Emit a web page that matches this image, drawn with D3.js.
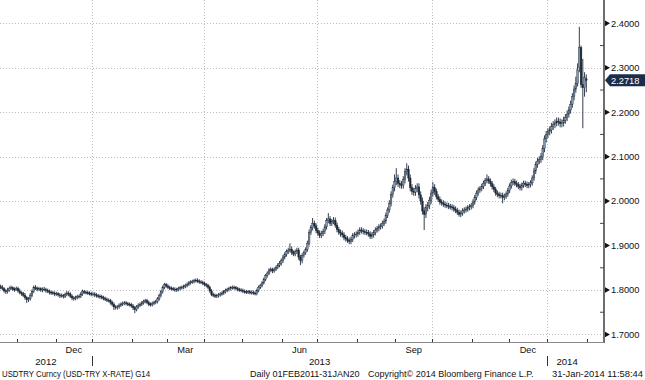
<!DOCTYPE html>
<html><head><meta charset="utf-8">
<script src="https://cdn.jsdelivr.net/npm/d3@7"></script>
<style>body{margin:0;background:#fff}svg{display:block}text{font-family:"Liberation Sans",Arial,sans-serif;fill:#111}</style>
</head><body><svg id="c" width="645" height="380"></svg>
<script>
// ---- data (daily USD/TRY OHLC) ----
const firstDay = "2012-10-18";
const lastDay = "2014-01-31";
const open = [
1.808,1.806,1.803,1.798,1.796,1.799,1.804,1.805,1.802,1.801,
1.803,1.798,1.794,1.792,1.788,1.783,1.778,1.780,1.788,1.797,
1.806,1.804,1.802,1.803,1.800,1.802,1.801,1.799,1.797,1.795,
1.794,1.793,1.791,1.792,1.789,1.787,1.788,1.786,1.790,1.793,
1.791,1.786,1.782,1.781,1.783,1.785,1.786,1.791,1.797,1.795,
1.794,1.793,1.792,1.790,1.791,1.789,1.787,1.786,1.785,1.783,
1.781,1.779,1.777,1.776,1.772,1.768,1.762,1.760,1.762,1.766,
1.768,1.770,1.771,1.769,1.768,1.767,1.764,1.760,1.756,1.762,
1.766,1.768,1.771,1.774,1.776,1.772,1.768,1.767,1.770,1.772,
1.774,1.780,1.788,1.796,1.806,1.812,1.809,1.806,1.804,1.803,
1.802,1.800,1.801,1.803,1.805,1.806,1.808,1.810,1.813,1.816,
1.818,1.819,1.821,1.822,1.820,1.818,1.817,1.815,1.812,1.810,
1.806,1.798,1.790,1.788,1.786,1.787,1.789,1.791,1.793,1.796,
1.799,1.801,1.803,1.805,1.806,1.805,1.803,1.801,1.800,1.799,
1.797,1.796,1.795,1.796,1.794,1.795,1.793,1.792,1.799,1.806,
1.810,1.816,1.824,1.832,1.838,1.845,1.846,1.843,1.847,1.851,
1.856,1.860,1.866,1.874,1.880,1.886,1.889,1.892,1.884,1.881,
1.886,1.890,1.874,1.866,1.878,1.884,1.891,1.905,1.930,1.940,
1.950,1.944,1.934,1.928,1.923,1.927,1.932,1.942,1.956,1.960,
1.950,1.954,1.957,1.946,1.936,1.930,1.928,1.924,1.918,1.915,
1.912,1.909,1.914,1.922,1.924,1.926,1.930,1.935,1.933,1.931,
1.930,1.929,1.926,1.921,1.924,1.929,1.935,1.938,1.942,1.944,
1.950,1.955,1.968,1.980,1.995,2.015,2.030,2.044,2.052,2.040,
2.037,2.036,2.048,2.066,2.072,2.052,2.030,2.022,2.020,2.028,
2.032,2.014,2.000,1.978,1.970,1.985,1.990,2.002,2.018,2.030,
2.022,2.010,2.004,1.998,1.996,1.993,1.991,1.990,1.988,1.987,
1.985,1.982,1.979,1.975,1.970,1.973,1.978,1.980,1.982,1.985,
1.987,1.990,1.998,2.008,2.018,2.025,2.028,2.033,2.040,2.046,
2.050,2.045,2.039,2.032,2.026,2.018,2.015,2.012,2.013,2.008,
2.011,2.016,2.024,2.034,2.042,2.044,2.040,2.037,2.033,2.030,
2.036,2.040,2.038,2.035,2.037,2.041,2.052,2.068,2.082,2.090,
2.094,2.100,2.118,2.140,2.150,2.156,2.160,2.168,2.172,2.176,
2.180,2.178,2.174,2.176,2.182,2.188,2.196,2.205,2.218,2.235,
2.252,2.265,2.300,2.345,2.262,2.255,2.275];
const high = [
1.812,1.811,1.806,1.802,1.805,1.808,1.810,1.808,1.806,1.808,
1.807,1.803,1.797,1.796,1.793,1.786,1.784,1.793,1.801,1.810,
1.811,1.808,1.807,1.806,1.806,1.807,1.805,1.803,1.801,1.799,
1.798,1.797,1.796,1.795,1.793,1.792,1.791,1.794,1.798,1.797,
1.795,1.790,1.786,1.787,1.789,1.790,1.795,1.801,1.800,1.799,
1.798,1.797,1.796,1.795,1.795,1.793,1.791,1.790,1.789,1.787,
1.785,1.783,1.781,1.780,1.776,1.772,1.766,1.766,1.770,1.772,
1.774,1.775,1.775,1.773,1.772,1.771,1.768,1.764,1.766,1.770,
1.772,1.775,1.778,1.780,1.780,1.776,1.772,1.774,1.776,1.778,
1.784,1.792,1.800,1.810,1.816,1.816,1.813,1.810,1.808,1.807,
1.806,1.805,1.807,1.809,1.810,1.812,1.814,1.817,1.820,1.822,
1.823,1.825,1.826,1.826,1.824,1.822,1.821,1.819,1.816,1.814,
1.810,1.802,1.794,1.792,1.791,1.793,1.795,1.797,1.800,1.803,
1.805,1.807,1.809,1.810,1.810,1.809,1.807,1.805,1.804,1.803,
1.801,1.800,1.800,1.800,1.799,1.799,1.797,1.803,1.810,1.814,
1.820,1.828,1.836,1.842,1.849,1.851,1.850,1.851,1.855,1.860,
1.865,1.871,1.879,1.885,1.891,1.895,1.905,1.898,1.889,1.891,
1.895,1.895,1.879,1.883,1.889,1.896,1.911,1.936,1.946,1.962,
1.956,1.950,1.940,1.934,1.933,1.938,1.948,1.962,1.973,1.966,
1.960,1.964,1.963,1.952,1.942,1.936,1.934,1.930,1.924,1.921,
1.918,1.920,1.928,1.930,1.932,1.936,1.941,1.941,1.939,1.937,
1.936,1.935,1.932,1.930,1.935,1.941,1.944,1.948,1.950,1.956,
1.961,1.974,1.986,2.002,2.022,2.037,2.060,2.074,2.060,2.047,
2.045,2.056,2.074,2.085,2.080,2.060,2.038,2.030,2.036,2.040,
2.040,2.022,2.008,1.986,1.993,1.998,2.010,2.026,2.043,2.038,
2.028,2.016,2.010,2.004,2.002,1.999,1.997,1.996,1.994,1.993,
1.991,1.988,1.985,1.981,1.979,1.984,1.986,1.988,1.991,1.993,
1.996,2.004,2.014,2.024,2.031,2.034,2.039,2.046,2.052,2.060,
2.056,2.051,2.045,2.038,2.032,2.024,2.021,2.019,2.019,2.017,
2.022,2.030,2.040,2.048,2.051,2.050,2.046,2.043,2.039,2.042,
2.046,2.046,2.044,2.043,2.047,2.058,2.075,2.089,2.097,2.101,
2.108,2.126,2.148,2.158,2.164,2.168,2.176,2.180,2.184,2.188,
2.188,2.186,2.184,2.190,2.196,2.204,2.213,2.226,2.243,2.260,
2.280,2.310,2.392,2.350,2.320,2.290,2.285];
const low = [
1.802,1.799,1.794,1.791,1.792,1.796,1.800,1.798,1.796,1.798,
1.794,1.790,1.787,1.784,1.778,1.771,1.773,1.776,1.784,1.793,
1.800,1.797,1.798,1.796,1.795,1.797,1.794,1.793,1.790,1.789,
1.789,1.786,1.787,1.785,1.782,1.783,1.781,1.782,1.786,1.786,
1.782,1.777,1.776,1.777,1.779,1.781,1.782,1.787,1.791,1.790,
1.789,1.788,1.786,1.786,1.784,1.783,1.782,1.780,1.779,1.777,
1.775,1.773,1.772,1.767,1.763,1.755,1.756,1.756,1.758,1.762,
1.764,1.766,1.765,1.764,1.763,1.760,1.755,1.748,1.752,1.758,
1.762,1.764,1.767,1.770,1.768,1.764,1.763,1.763,1.766,1.768,
1.770,1.776,1.784,1.792,1.802,1.805,1.802,1.800,1.799,1.798,
1.796,1.796,1.797,1.799,1.801,1.802,1.804,1.806,1.809,1.812,
1.814,1.815,1.817,1.816,1.814,1.813,1.811,1.808,1.806,1.802,
1.794,1.786,1.784,1.782,1.782,1.783,1.785,1.787,1.789,1.792,
1.795,1.797,1.799,1.801,1.801,1.799,1.797,1.796,1.795,1.793,
1.792,1.791,1.791,1.790,1.790,1.789,1.788,1.788,1.795,1.802,
1.806,1.812,1.820,1.828,1.834,1.840,1.838,1.839,1.843,1.847,
1.851,1.855,1.861,1.869,1.875,1.881,1.884,1.879,1.876,1.876,
1.881,1.868,1.856,1.860,1.873,1.879,1.886,1.900,1.924,1.934,
1.938,1.928,1.922,1.917,1.917,1.921,1.926,1.936,1.950,1.944,
1.944,1.948,1.940,1.930,1.924,1.920,1.918,1.912,1.909,1.906,
1.903,1.903,1.908,1.916,1.918,1.920,1.924,1.927,1.925,1.924,
1.923,1.920,1.915,1.915,1.918,1.923,1.929,1.932,1.936,1.938,
1.944,1.949,1.962,1.974,1.988,2.008,2.022,2.036,2.032,2.029,
2.028,2.028,2.040,2.058,2.044,2.022,2.014,2.012,2.012,2.020,
2.006,1.992,1.970,1.935,1.962,1.977,1.982,1.994,2.010,2.014,
2.004,1.998,1.992,1.990,1.987,1.985,1.984,1.982,1.981,1.979,
1.976,1.973,1.969,1.965,1.964,1.967,1.972,1.974,1.976,1.979,
1.981,1.984,1.992,2.002,2.012,2.019,2.022,2.027,2.034,2.040,
2.039,2.033,2.026,2.020,2.012,2.009,2.006,2.006,1.995,2.002,
2.005,2.010,2.018,2.028,2.036,2.034,2.031,2.027,2.024,2.024,
2.030,2.032,2.029,2.029,2.031,2.035,2.046,2.061,2.075,2.083,
2.086,2.092,2.110,2.132,2.142,2.148,2.152,2.160,2.164,2.168,
2.170,2.166,2.166,2.168,2.174,2.180,2.188,2.197,2.210,2.227,
2.244,2.258,2.290,2.255,2.164,2.235,2.245];
const close = [
1.806,1.803,1.798,1.796,1.799,1.804,1.805,1.802,1.801,1.803,
1.798,1.794,1.792,1.788,1.783,1.778,1.780,1.788,1.797,1.806,
1.804,1.802,1.803,1.800,1.802,1.801,1.799,1.797,1.795,1.794,
1.793,1.791,1.792,1.789,1.787,1.788,1.786,1.790,1.793,1.791,
1.786,1.782,1.781,1.783,1.785,1.786,1.791,1.797,1.795,1.794,
1.793,1.792,1.790,1.791,1.789,1.787,1.786,1.785,1.783,1.781,
1.779,1.777,1.776,1.772,1.768,1.762,1.760,1.762,1.766,1.768,
1.770,1.771,1.769,1.768,1.767,1.764,1.760,1.756,1.762,1.766,
1.768,1.771,1.774,1.776,1.772,1.768,1.767,1.770,1.772,1.774,
1.780,1.788,1.796,1.806,1.812,1.809,1.806,1.804,1.803,1.802,
1.800,1.801,1.803,1.805,1.806,1.808,1.810,1.813,1.816,1.818,
1.819,1.821,1.822,1.820,1.818,1.817,1.815,1.812,1.810,1.806,
1.798,1.790,1.788,1.786,1.787,1.789,1.791,1.793,1.796,1.799,
1.801,1.803,1.805,1.806,1.805,1.803,1.801,1.800,1.799,1.797,
1.796,1.795,1.796,1.794,1.795,1.793,1.792,1.799,1.806,1.810,
1.816,1.824,1.832,1.838,1.845,1.846,1.843,1.847,1.851,1.856,
1.860,1.866,1.874,1.880,1.886,1.889,1.892,1.884,1.881,1.886,
1.890,1.874,1.866,1.878,1.884,1.891,1.905,1.930,1.940,1.950,
1.944,1.934,1.928,1.923,1.927,1.932,1.942,1.956,1.960,1.950,
1.954,1.957,1.946,1.936,1.930,1.928,1.924,1.918,1.915,1.912,
1.909,1.914,1.922,1.924,1.926,1.930,1.935,1.933,1.931,1.930,
1.929,1.926,1.921,1.924,1.929,1.935,1.938,1.942,1.944,1.950,
1.955,1.968,1.980,1.995,2.015,2.030,2.044,2.052,2.040,2.037,
2.036,2.048,2.066,2.072,2.052,2.030,2.022,2.020,2.028,2.032,
2.014,2.000,1.978,1.970,1.985,1.990,2.002,2.018,2.030,2.022,
2.010,2.004,1.998,1.996,1.993,1.991,1.990,1.988,1.987,1.985,
1.982,1.979,1.975,1.970,1.973,1.978,1.980,1.982,1.985,1.987,
1.990,1.998,2.008,2.018,2.025,2.028,2.033,2.040,2.046,2.050,
2.045,2.039,2.032,2.026,2.018,2.015,2.012,2.013,2.008,2.011,
2.016,2.024,2.034,2.042,2.044,2.040,2.037,2.033,2.030,2.036,
2.040,2.038,2.035,2.037,2.041,2.052,2.068,2.082,2.090,2.094,
2.100,2.118,2.140,2.150,2.156,2.160,2.168,2.172,2.176,2.180,
2.178,2.174,2.176,2.182,2.188,2.196,2.205,2.218,2.235,2.252,
2.265,2.295,2.345,2.262,2.255,2.278,2.2718];
const yTicks = [1.7,1.8,1.9,2.0,2.1,2.2,2.3,2.4];
const yMinorTicks = [1.75,1.85,1.95,2.05,2.15,2.25,2.35];
const monthLabelKeys = ["2012-12","2013-03","2013-06","2013-09","2013-12"];
const monthLabelNames = ["Dec","Mar","Jun","Sep","Dec"];
const yearLabels = ["2012","2013","2014"];
const lastValue = 2.2718;
const titleLeft = "USDTRY Curncy (USD-TRY X-RATE) G14";
const footerRange = "Daily 01FEB2011-31JAN20";
const footerCopy = "Copyright\u00A9 2014 Bloomberg Finance L.P.";
const footerStamp = "31-Jan-2014 11:58:44";

// ---- layout ----
const svg = d3.select("#c");
const plotRight = 604, plotBottom = 342;
const parse = d3.utcParse("%Y-%m-%d");
const dates = d3.utcDay.range(parse(firstDay), d3.utcDay.offset(parse(lastDay),1))
  .filter(d => d.getUTCDay() !== 0 && d.getUTCDay() !== 6);
const N = Math.min(dates.length, close.length);
const x = d3.scaleLinear().domain([0, N-1]).range([0.6, 586.3]);
const step = x(1) - x(0);
const y = d3.scaleLinear().domain([1.683, 2.4525]).range([plotBottom, 0]);

// month boundaries (between trading days)
const months = d3.utcMonth.range(d3.utcMonth.ceil(dates[0]), d3.utcMonth.offset(d3.utcMonth.floor(dates[N-1]),2));
const bx = m => x(d3.bisectLeft(dates, m)) - step/2;
const key = d3.utcFormat("%Y-%m");

// gridlines
const grid = svg.append("g").attr("stroke","#bdbdbd").attr("stroke-width",1).attr("stroke-dasharray","1,2");
grid.selectAll("line.h").data(yTicks).join("line")
  .attr("x1",0).attr("x2",plotRight).attr("y1",d=>Math.round(y(d))+0.5).attr("y2",d=>Math.round(y(d))+0.5);
const quarters = months.filter(m => m.getUTCMonth()%3===0 && d3.bisectLeft(dates,m) < N);
grid.selectAll("line.v").data(quarters).join("line")
  .attr("x1",d=>Math.round(bx(d))+0.5).attr("x2",d=>Math.round(bx(d))+0.5).attr("y1",0).attr("y2",plotBottom);

// candles
const idx = d3.range(N);
const cg = svg.append("g");
const dark = "#1c2838", light = "#8294a9";
cg.selectAll("line").data(idx).join("line")
  .attr("x1",i=>x(i)).attr("x2",i=>x(i))
  .attr("y1",i=>y(high[i])).attr("y2",i=>y(low[i]))
  .attr("stroke",dark).attr("stroke-width",0.9);
const bw = step*0.95;
cg.selectAll("rect").data(idx).join("rect")
  .attr("x",i=>x(i)-bw/2).attr("width",bw)
  .attr("y",i=>y(Math.max(open[i],close[i])))
  .attr("height",i=>Math.max(0.8, Math.abs(y(open[i])-y(close[i]))))
  .attr("fill",i=>close[i]>=open[i]?light:dark)
  .attr("stroke",dark).attr("stroke-width",0.4);

// axes lines
svg.append("line").attr("x1",plotRight).attr("x2",plotRight).attr("y1",0).attr("y2",plotBottom+1)
  .attr("stroke","#6e6e6e").attr("stroke-width",2);
svg.append("line").attr("x1",0).attr("x2",plotRight).attr("y1",plotBottom+0.5).attr("y2",plotBottom+0.5)
  .attr("stroke","#8a8a8a").attr("stroke-width",1);

// right axis ticks and labels
const ya = svg.append("g");
ya.selectAll("path").data(yTicks).join("path")
  .attr("d",d=>{const yy=y(d);return `M${plotRight+1},${yy-2.8}L${plotRight+6},${yy}L${plotRight+1},${yy+2.8}Z`;})
  .attr("fill","#111");
ya.selectAll("text").data(yTicks).join("text")
  .attr("x",plotRight+7).attr("y",d=>y(d)+3.3).attr("font-size","9.3px")
  .text(d=>d3.format(".4f")(d));
ya.selectAll("line").data(yMinorTicks).join("line")
  .attr("x1",plotRight-4).attr("x2",plotRight).attr("y1",d=>y(d)).attr("y2",d=>y(d))
  .attr("stroke","#444").attr("stroke-width",1);

// last value tag
const ly = y(lastValue);
svg.append("path")
  .attr("d",`M${plotRight+1},${ly}L${plotRight+6},${ly-6}L645,${ly-6}L645,${ly+6}L${plotRight+6},${ly+6}Z`)
  .attr("fill","#1b2c4c");
svg.append("text").attr("x",plotRight+7).attr("y",ly+3.4).attr("font-size","9.3px")
  .style("fill","#fff").text(d3.format(".4f")(lastValue));

// bottom axis: month ticks
const xa = svg.append("g");
xa.selectAll("line").data(months).join("line")
  .attr("x1",d=>Math.round(bx(d))+0.5).attr("x2",d=>Math.round(bx(d))+0.5)
  .attr("y1",plotBottom-3).attr("y2",plotBottom)
  .attr("stroke","#333").attr("stroke-width",1);
// month labels at month centre
monthLabelKeys.forEach((k,j)=>{
  const m = months.find(d=>key(d)===k);
  const cx = (bx(m)+bx(d3.utcMonth.offset(m,1)))/2;
  xa.append("text").attr("x",cx).attr("y",353).attr("text-anchor","middle").attr("font-size","9.3px").text(monthLabelNames[j]);
});
// year labels + separators
const yearStarts = yearLabels.map(yr=>parse(yr+"-01-01"));
yearLabels.forEach((yr,j)=>{
  const a = j===0 ? x(0)-step/2 : bx(yearStarts[j]);
  const b = j===yearLabels.length-1 ? x(N-1)+step/2 : bx(yearStarts[j+1]);
  xa.append("text").attr("x",(a+b)/2).attr("y",364.5).attr("text-anchor","middle").attr("font-size","9.6px").text(yr);
  if(j>0) xa.append("line").attr("x1",Math.round(a)+0.5).attr("x2",Math.round(a)+0.5).attr("y1",356).attr("y2",366)
     .attr("stroke","#333").attr("stroke-width",1);
});

// footer
svg.append("text").attr("x",2).attr("y",376.5).attr("font-size","9px").attr("textLength",148).attr("lengthAdjust","spacingAndGlyphs").text(titleLeft);
svg.append("text").attr("x",250).attr("y",376.5).attr("font-size","9px").text(footerRange);
svg.append("text").attr("x",368).attr("y",376.5).attr("font-size","9px").text(footerCopy);
svg.append("text").attr("x",643).attr("y",376.5).attr("text-anchor","end").attr("font-size","9.4px").text(footerStamp);
</script></body></html>
